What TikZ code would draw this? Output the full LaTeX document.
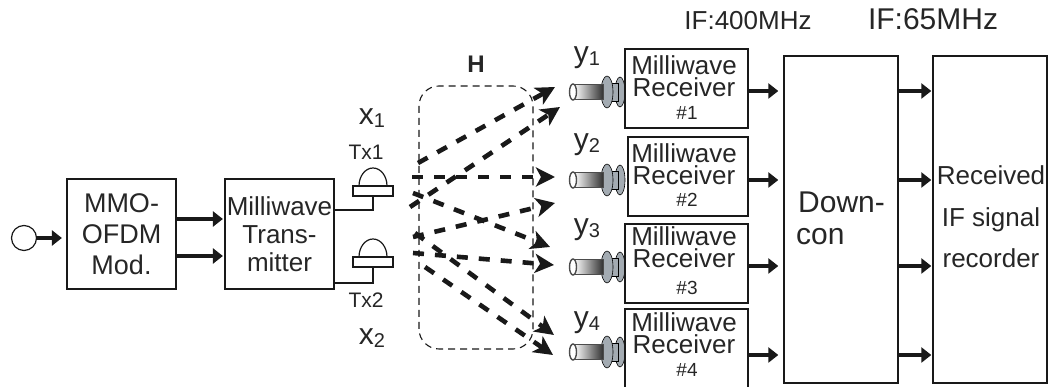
\documentclass[tikz,border=0pt]{standalone}
\usepackage{fontspec}
\setmainfont{Liberation Sans}
\usetikzlibrary{arrows.meta}
\definecolor{flange}{HTML}{A3ABB2}
\tikzset{
  box/.style={draw=black!90,line width=2.2pt,inner sep=0pt},
  thinbox/.style={draw=black!90,line width=1.4pt,inner sep=0pt},
  sig/.style={line width=3.4pt,black!90,-{Triangle[length=10pt,width=15pt]}},
  chpath/.style={line width=4.6pt,black!90,dash pattern=on 11pt off 11pt,-{Stealth[length=19pt,width=19pt,inset=5pt]}},
  feed/.style={line width=1.2pt,black!90},
  lbl/.style={inner sep=0pt,anchor=base,font=\fontsize{26}{28}\selectfont,black!85},
  txlbl/.style={lbl,font=\fontsize{21}{23}\selectfont},
  idx/.style={lbl,font=\fontsize{30}{32}\selectfont},
}
\newcommand{\lowidx}[1]{\raisebox{-3pt}{\fontsize{20}{22}\selectfont #1}}
\newcommand{\conn}[1]{%
  \draw[fill=flange,line width=.6pt] (620,#1) ellipse (5 and 15);
  \draw[fill=flange,line width=.6pt] (609,#1-9) rectangle (618,#1+9);
  \draw[fill=flange,line width=.6pt] (607,#1) ellipse (6 and 16);
  \draw[left color=white,right color=black!80,draw=black!70,line width=.6pt] (574,#1-7.5) rectangle (603,#1+7.5);
  \draw[line width=1.4pt,draw=black!70,fill=white] (573,#1) ellipse (3.5 and 8);
}
\begin{document}
\begin{tikzpicture}[x=1pt,y=1pt]
  \useasboundingbox (0,0) rectangle (1048,387);

  % source and modulator
  \node[draw=black!90,circle,line width=1.2pt,minimum size=25pt,inner sep=0pt] (src) at (24,149) {};
  \node[box,minimum width=109pt,minimum height=110pt,align=center,font=\fontsize{27}{31}\selectfont,text=black!85] (mod) at (121.5,153) {MMO-\\OFDM\\Mod.};
  \node[box,minimum width=109pt,minimum height=110pt,align=center,font=\fontsize{26}{28}\selectfont,text=black!85] (tx) at (279.5,153) {Milliwave\\Trans-\\mitter};
  \draw[sig,shorten >=4pt] (src.east) -- (src.east -| mod.west);
  \coordinate (m1) at (mod.east |- 0,168);
  \coordinate (m2) at (mod.east |- 0,131);
  \draw[sig,shorten >=1pt] (m1) -- (m1 -| tx.west);
  \draw[sig,shorten >=1pt] (m2) -- (m2 -| tx.west);

  % antennas
  \foreach \n/\yy in {1/196,2/125}{
    \node[draw=black!90,line width=1.4pt,minimum width=40pt,minimum height=10pt,inner sep=0pt] (ant\n) at (373,\yy) {};
    \draw[line width=1.2pt,black!90] (359,\yy+5) arc (180:0:14 and 18);
  }
  \coordinate (f1) at (tx.east |- 0,177);
  \coordinate (f2) at (tx.east |- 0,104);
  \draw[feed] (f1) -| (ant1.south);
  \draw[feed] (f2) -| (ant2.south);
  \node[txlbl] (tx1) at (366,227) {Tx1};
  \node[txlbl] (tx2) at (366,79) {Tx2};
  \node[idx] (x1) at (372,262) {x\lowidx{1}};
  \node[idx] (x2) at (372,42) {x\lowidx{2}};

  % channel
  \draw[line width=1.1pt,black!90,dash pattern=on 7pt off 5pt,rounded corners=20pt] (419,38) rectangle (533,301);
  \node[lbl,font=\fontsize{24}{26}\selectfont\bfseries] (h) at (476,314) {H};
  \foreach \n/\xa/\ya/\xb/\yb in {1/418/224/555/300,2/410/180/560/280,3/412/210/555/210,4/413/150/555/184,
      5/413/194/550/140,6/413/134/554/122,7/415/154/554/52,8/425/120/553/32}{
    \coordinate (a\n) at (\xa,\ya);
    \coordinate (b\n) at (\xb,\yb);
    \draw[chpath] (a\n) -- (b\n);
  }

  % receivers
  \foreach \n/\xl/\yt/\yb/\ya/\ylbl/\ybr/\ybn in {1/624/339/260/295/324/290/267,2/627/251/172/207/237/202/180,
      3/624/164/85/120/152/119/92,4/624/79/0/35/59/33/10}{
    \node[idx] (y\n) at (587,\ylbl) {y\lowidx{\n}};
    \conn{\ya}
    \node[box,anchor=north west,minimum width=747pt-\xl pt,minimum height=\yt pt-\yb pt] (rx\n) at (\xl,\yt) {};
    \node[lbl,anchor=south,align=center,font=\fontsize{26}{22}\selectfont] (rxa\n) at (684,\ybr) {Milliwave\\Receiver};
    \node[lbl,font=\fontsize{19}{21}\selectfont] (rxc\n) at (687,\ybn) {\#\n};
  }

  % down converter and recorder
  \node[thinbox,minimum width=114pt,minimum height=327pt] (dc) at (841,167.5) {};
  \node[thinbox,minimum width=114pt,minimum height=327pt] (rec) at (990,167.5) {};
  \node[lbl,font=\fontsize{30}{32}\selectfont,anchor=base west] (dca) at (798,174) {Down-};
  \node[lbl,font=\fontsize{30}{32}\selectfont,anchor=base west] (dcb) at (796,142) {con};
  \node[lbl] (reca) at (991,202) {Received};
  \node[lbl] (recb) at (991,160) {IF signal};
  \node[lbl] (recc) at (991,119) {recorder};
  \foreach \n/\ya in {1/296,2/207,3/121,4/32}{
    \coordinate (q\n) at (rx\n.east |- 0,\ya);
    \draw[sig,shorten >=5pt] (q\n) -- (q\n -| dc.west);
    \coordinate (p\n) at (dc.east |- 0,\ya);
    \draw[sig,shorten >=1pt] (p\n) -- (p\n -| rec.west);
  }
  \node[lbl] (if1) at (748,357) {IF:400MHz};
  \node[lbl,font=\fontsize{30}{32}\selectfont] (if2) at (933,357) {IF:65MHz};
\end{tikzpicture}
\end{document}
